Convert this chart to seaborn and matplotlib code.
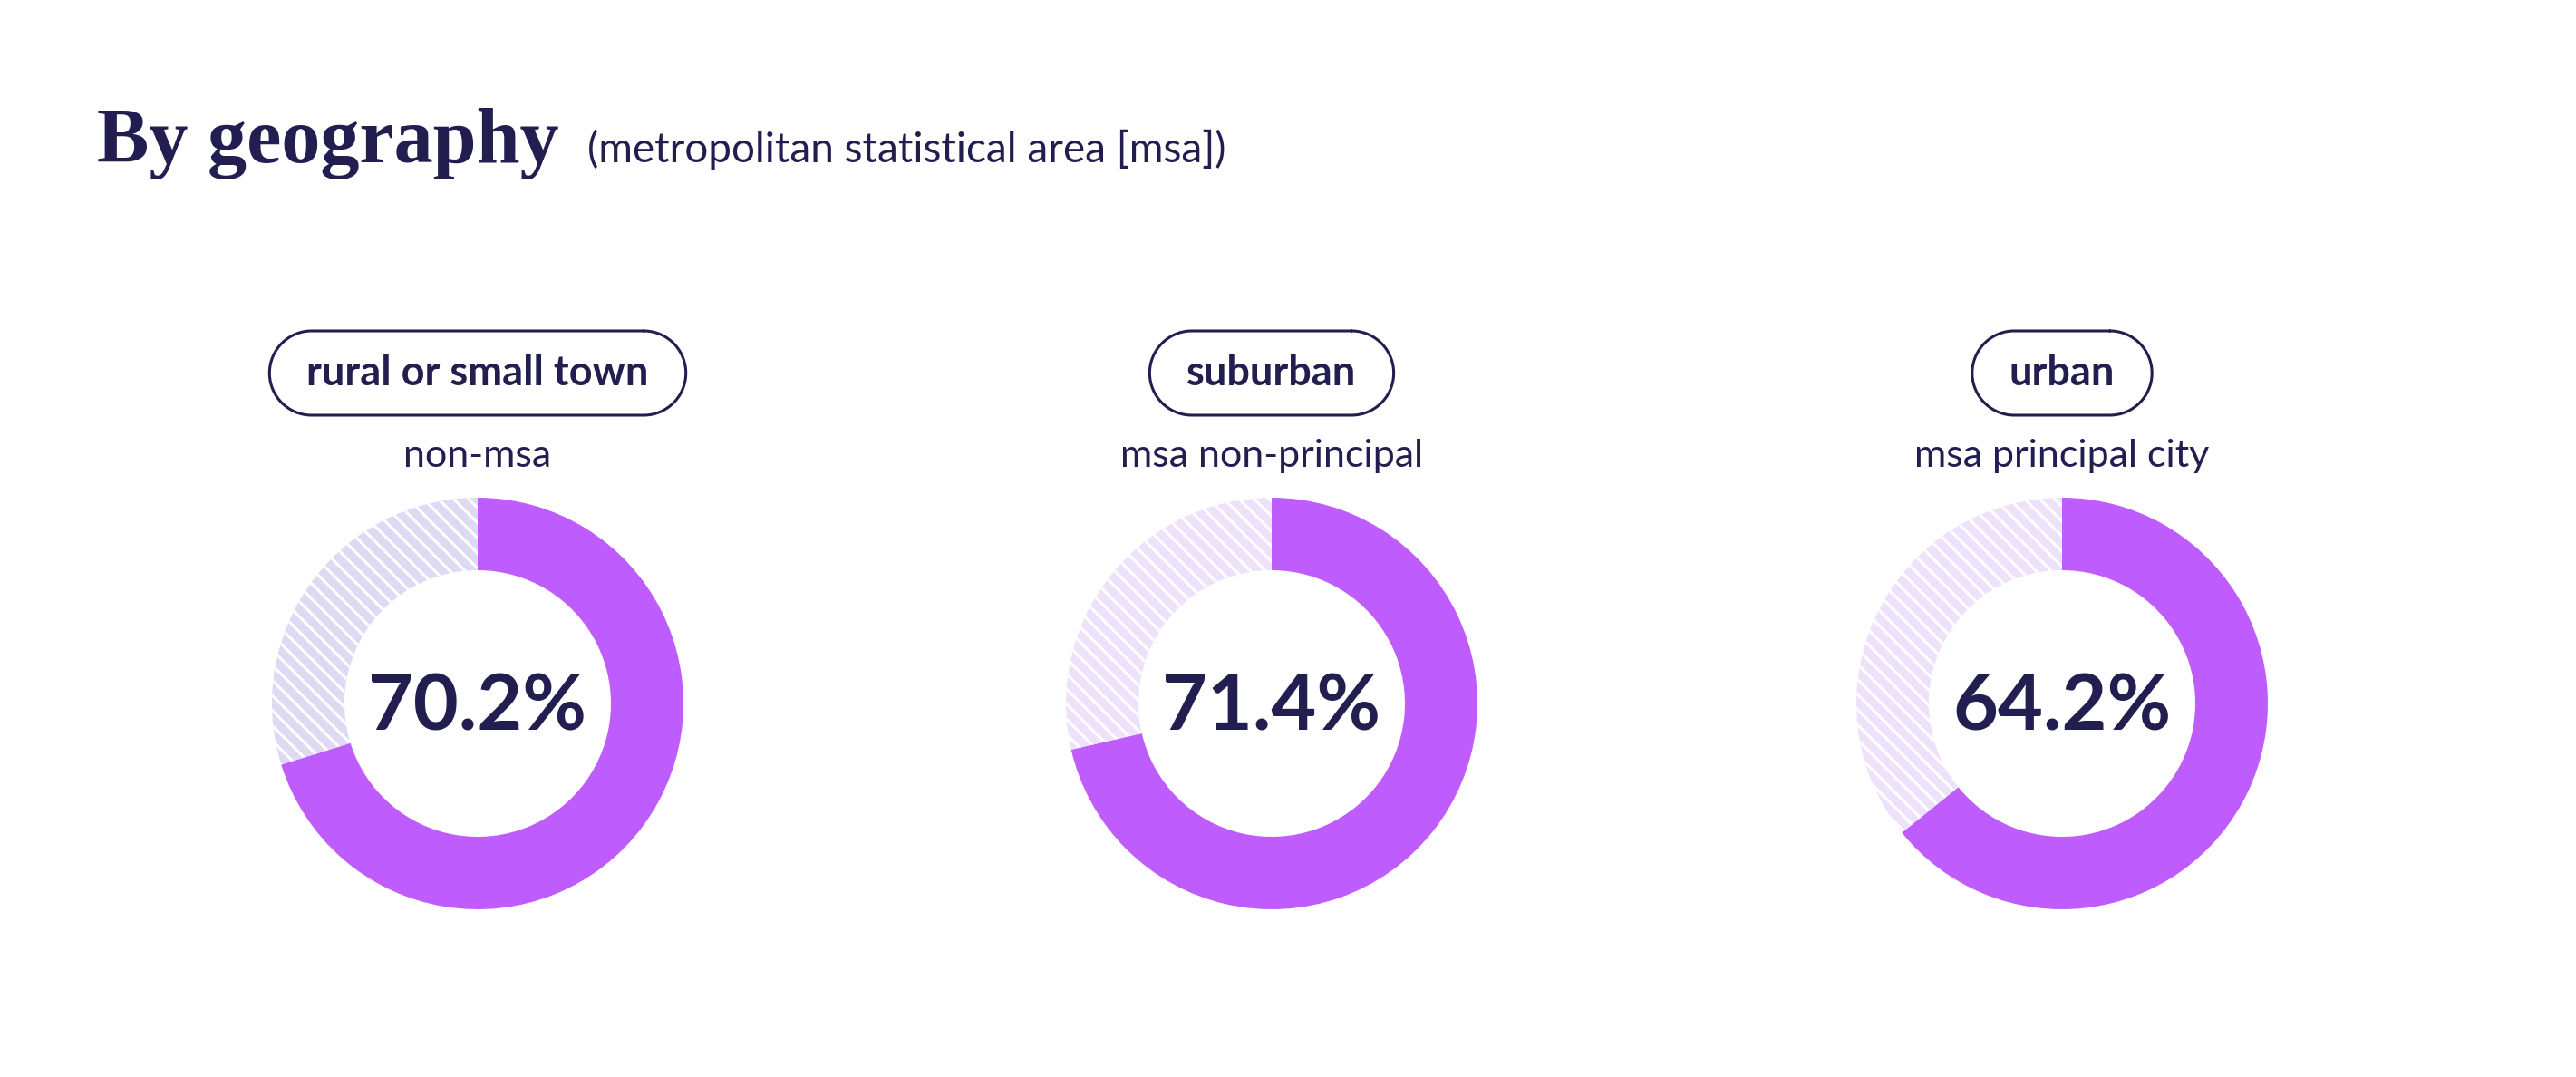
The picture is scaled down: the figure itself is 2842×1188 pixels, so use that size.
import matplotlib
matplotlib.use("Agg")
import numpy as np
import matplotlib.pyplot as plt
import seaborn as sns

# Data
regions = ["rural or small town", "suburban", "urban"]
msa_labels = ["non-msa", "msa non-principal", "msa principal city"]
shares = [70.2, 71.4, 64.2]

# Styling
NAVY = "#221E50"
PURPLE = "#BF5CFD"
rest_colors = ["#DFD9F3", "#EEE2FB", "#EEE2FB"]

sns.set_theme(style="white")
plt.rcParams["font.family"] = ["Lato", "DejaVu Sans"]
plt.rcParams["hatch.linewidth"] = 2.2

W, H = 2842, 1188
fig = plt.figure(figsize=(W / 100, H / 100), dpi=100)
fig.patch.set_facecolor("white")

# overlay axes in pixel units (origin top-left)
ov = fig.add_axes([0, 0, 1, 1])
ov.set_xlim(0, W)
ov.set_ylim(H, 0)
ov.axis("off")


def pill_outline(cx, cy, w, h):
    # stadium shape: two half circles joined by straight lines
    r = h / 2
    a = np.linspace(-np.pi / 2, np.pi / 2, 60)
    right_x = cx + w / 2 - r + r * np.cos(a)
    right_y = cy + r * np.sin(a)
    left_x = cx - w / 2 + r - r * np.cos(a)
    left_y = cy - r * np.sin(a)
    xs = np.concatenate([right_x, left_x, right_x[:1]])
    ys = np.concatenate([right_y, left_y, right_y[:1]])
    return xs, ys


# title
ov.text(107, 179, "By geography", fontsize=62, fontweight="bold",
        family=["Liberation Serif", "DejaVu Serif"], color=NAVY, va="baseline", ha="left")
ov.text(648, 179, "(metropolitan statistical area [msa])", fontsize=33,
        color=NAVY, va="baseline", ha="left")

centers_x = [527, 1403, 2275]
cy = 776
r_out = 227
r_in = 147

fig.canvas.draw()
renderer = fig.canvas.get_renderer()

for i, (reg, sub, val) in enumerate(zip(regions, msa_labels, shares)):
    cx = centers_x[i]

    # pill label
    t = ov.text(cx, 412, reg, fontsize=32.5, fontweight="bold", color=NAVY,
                ha="center", va="center")
    bb = t.get_window_extent(renderer=renderer)
    pw = bb.width + 82
    xs, ys = pill_outline(cx, 411.5, pw, 93)
    ov.plot(xs, ys, color=NAVY, linewidth=2.2, solid_joinstyle="round")

    ov.text(cx, 503, sub, fontsize=31, color=NAVY, ha="center", va="center")

    # donut
    ax = fig.add_axes([(cx - r_out) / W, (H - cy - r_out) / H, 2 * r_out / W, 2 * r_out / H])
    wedges, _ = ax.pie([val, 100 - val], colors=[PURPLE, rest_colors[i]],
                       startangle=90, counterclock=False, radius=1,
                       wedgeprops=dict(width=1 - r_in / r_out, linewidth=0))
    wedges[1].set_hatch("\\\\")
    wedges[1].set_edgecolor("white")
    wedges[1].set_linewidth(0)
    ax.set_xlim(-1, 1)
    ax.set_ylim(-1, 1)
    ax.set_aspect("equal")
    ax.axis("off")
    ax.text(0, -0.02, f"{val:.1f}%", fontsize=62, fontweight="bold", color=NAVY,
            ha="center", va="center")

fig.savefig("out.png", dpi=100, facecolor="white")
